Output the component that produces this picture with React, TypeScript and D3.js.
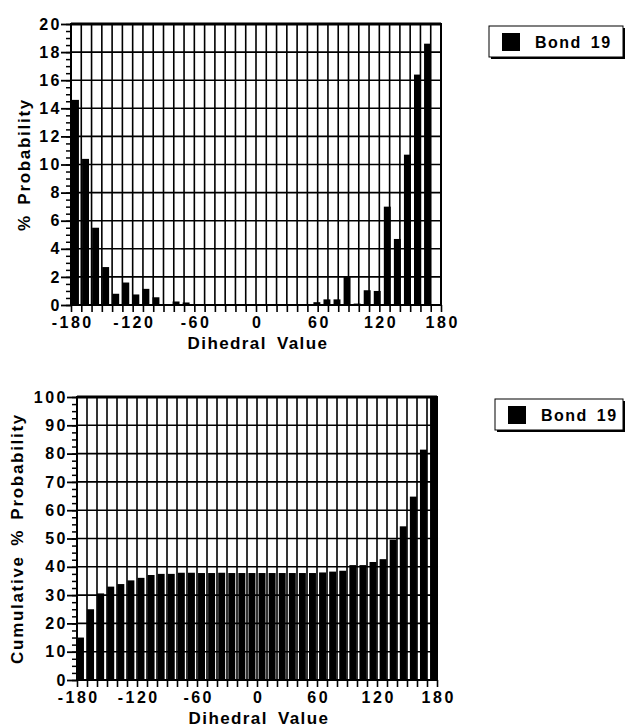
import React, { useRef, useEffect } from "react";
import * as d3 from "d3";

// bin starts (degrees), one bar per 10-degree bin
const binStarts = [
  -180, -170, -160, -150, -140, -130, -120, -110, -100, -90, -80, -70,
  -60, -50, -40, -30, -20, -10, 0, 10, 20, 30, 40, 50,
  60, 70, 80, 90, 100, 110, 120, 130, 140, 150, 160, 170,
];

// % probability per bin
const probability = [
  14.6, 10.4, 5.5, 2.7, 0.8, 1.6, 0.75, 1.15, 0.55, 0, 0.25, 0.18,
  0, 0, 0, 0, 0, 0, 0, 0, 0, 0, 0, 0,
  0.2, 0.4, 0.4, 2.0, 0.1, 1.05, 1.0, 7.0, 4.7, 10.7, 16.4, 18.6,
];

// cumulative % probability per bin
const cumulative = [
  15.0, 25.0, 30.6, 33.0, 33.9, 35.2, 36.1, 37.1, 37.5, 37.5, 37.9, 37.9,
  37.8, 37.8, 37.9, 37.8, 37.8, 37.8, 37.8, 37.8, 37.8, 37.8, 37.8, 37.8,
  38.0, 38.3, 38.6, 40.6, 40.6, 41.7, 42.7, 49.6, 54.3, 64.8, 81.4, 100,
];

const xLabelTicks = [-180, -120, -60, 0, 60, 120, 180];
const seriesName = "Bond 19";
const xTitle = "Dihedral Value";

const FONT = "'Liberation Sans', Arial, Helvetica, sans-serif";

const panels = [
  {
    values: probability,
    yTitle: "% Probability",
    yMax: 20,
    yStep: 2,
    yMinor: 0.5,
    left: 71,
    right: 441,
    top: 24,
    bottom: 305,
    barRange: [72, 431],
    yTitleX: 30,
    legend: { x: 489, y: 26, w: 134, h: 31 },
  },
  {
    values: cumulative,
    yTitle: "Cumulative % Probability",
    yMax: 100,
    yStep: 10,
    yMinor: 2.5,
    left: 77,
    right: 437,
    top: 397,
    bottom: 680,
    barRange: [77, 437],
    yTitleX: 23,
    legend: { x: 495, y: 399, w: 128, h: 31 },
  },
];

function drawPanel(svg, p) {
  const x = d3.scaleLinear().domain([-180, 180]).range([p.left, p.right]);
  const y = d3.scaleLinear().domain([0, p.yMax]).range([p.bottom, p.top]);
  const band = d3
    .scaleBand()
    .domain(binStarts.map(String))
    .range(p.barRange)
    .paddingInner(0.31)
    .paddingOuter(0);

  const g = svg.append("g");

  // vertical grid
  g.selectAll(".vgrid")
    .data(d3.range(-170, 180, 10))
    .join("line")
    .attr("x1", (d) => x(d))
    .attr("x2", (d) => x(d))
    .attr("y1", p.top)
    .attr("y2", p.bottom)
    .attr("stroke", "#000")
    .attr("stroke-width", 1.6);

  // horizontal grid
  g.selectAll(".hgrid")
    .data(d3.range(p.yStep, p.yMax, p.yStep))
    .join("line")
    .attr("x1", p.left)
    .attr("x2", p.right)
    .attr("y1", (d) => y(d))
    .attr("y2", (d) => y(d))
    .attr("stroke", "#000")
    .attr("stroke-width", 1.6);

  // bars
  g.selectAll(".bar")
    .data(p.values)
    .join("rect")
    .attr("x", (d, i) => band(String(binStarts[i])))
    .attr("width", band.bandwidth())
    .attr("y", (d) => y(d))
    .attr("height", (d) => y(0) - y(d))
    .attr("fill", "#000");

  // frame
  g.append("rect")
    .attr("x", p.left)
    .attr("y", p.top)
    .attr("width", p.right - p.left)
    .attr("height", p.bottom - p.top)
    .attr("fill", "none")
    .attr("stroke", "#000")
    .attr("stroke-width", 2);
  g.append("line")
    .attr("x1", p.left)
    .attr("x2", p.right)
    .attr("y1", p.top)
    .attr("y2", p.top)
    .attr("stroke", "#000")
    .attr("stroke-width", 3);

  // y axis: minor then major ticks
  const yMinorAxis = g
    .append("g")
    .attr("transform", `translate(${p.left},0)`)
    .call(
      d3
        .axisLeft(y)
        .tickValues(d3.range(0, p.yMax + 0.001, p.yMinor))
        .tickSize(5)
        .tickFormat(() => "")
    );
  yMinorAxis.select(".domain").remove();
  yMinorAxis.selectAll("line").attr("stroke-width", 1.5);

  const yAxis = g
    .append("g")
    .attr("transform", `translate(${p.left},0)`)
    .call(
      d3
        .axisLeft(y)
        .tickValues(d3.range(0, p.yMax + 0.001, p.yStep))
        .tickSize(10)
        .tickPadding(-1)
        .tickFormat(d3.format("d"))
    );
  yAxis.select(".domain").remove();
  yAxis.selectAll("line").attr("stroke-width", 1.8);
  yAxis
    .selectAll("text")
    .attr("font-family", FONT)
    .attr("font-weight", "bold")
    .attr("font-size", 16)
    .attr("letter-spacing", 2.5)
    .attr("fill", "#000");

  // x axis
  const xAxis = g
    .append("g")
    .attr("transform", `translate(0,${p.bottom})`)
    .call(
      d3
        .axisBottom(x)
        .tickValues(d3.range(-180, 181, 10))
        .tickSize(7)
        .tickPadding(5)
        .tickFormat((d) => (xLabelTicks.includes(d) ? String(d) : ""))
    );
  xAxis.select(".domain").remove();
  xAxis.selectAll("line").attr("stroke-width", 1.6);
  xAxis
    .selectAll("text")
    .attr("font-family", FONT)
    .attr("font-weight", "bold")
    .attr("font-size", 16)
    .attr("letter-spacing", 2.5)
    .attr("dx", 1.2)
    .attr("fill", "#000");

  // axis titles
  g.append("text")
    .attr("x", (p.left + p.right) / 2 + 2)
    .attr("y", p.bottom + 44)
    .attr("text-anchor", "middle")
    .attr("font-family", FONT)
    .attr("font-weight", "bold")
    .attr("font-size", 17)
    .attr("letter-spacing", 1.4)
    .attr("word-spacing", 4)
    .text(xTitle);

  g.append("text")
    .attr("transform", `translate(${p.yTitleX},${(p.top + p.bottom) / 2}) rotate(-90)`)
    .attr("text-anchor", "middle")
    .attr("font-family", FONT)
    .attr("font-weight", "bold")
    .attr("font-size", 17)
    .attr("letter-spacing", 1.7)
    .attr("word-spacing", 3)
    .text(p.yTitle);

  // legend
  const L = p.legend;
  const lg = g.append("g").attr("transform", `translate(${L.x},${L.y})`);
  lg.append("rect")
    .attr("x", 2)
    .attr("y", 2)
    .attr("width", L.w)
    .attr("height", L.h)
    .attr("fill", "#000");
  lg.append("rect")
    .attr("width", L.w)
    .attr("height", L.h)
    .attr("fill", "#fff")
    .attr("stroke", "#000")
    .attr("stroke-width", 1);
  lg.append("rect")
    .attr("x", 13)
    .attr("y", 7)
    .attr("width", 18)
    .attr("height", 18)
    .attr("fill", "#000");
  lg.append("text")
    .attr("x", 46)
    .attr("y", 21.5)
    .attr("font-family", FONT)
    .attr("font-weight", "bold")
    .attr("font-size", 16)
    .attr("letter-spacing", 1.5)
    .attr("word-spacing", 3)
    .text(seriesName);
}

export default function App() {
  const ref = useRef(null);

  useEffect(() => {
    if (!ref.current) return;
    const svg = d3.select(ref.current);
    svg.selectAll("*").remove();
    panels.forEach((p) => drawPanel(svg, p));
  }, []);

  return (
    <svg
      ref={ref}
      width={625}
      height={728}
      style={{ position: "absolute", left: 0, top: 0, background: "#fff" }}
    ></svg>
  );
}
